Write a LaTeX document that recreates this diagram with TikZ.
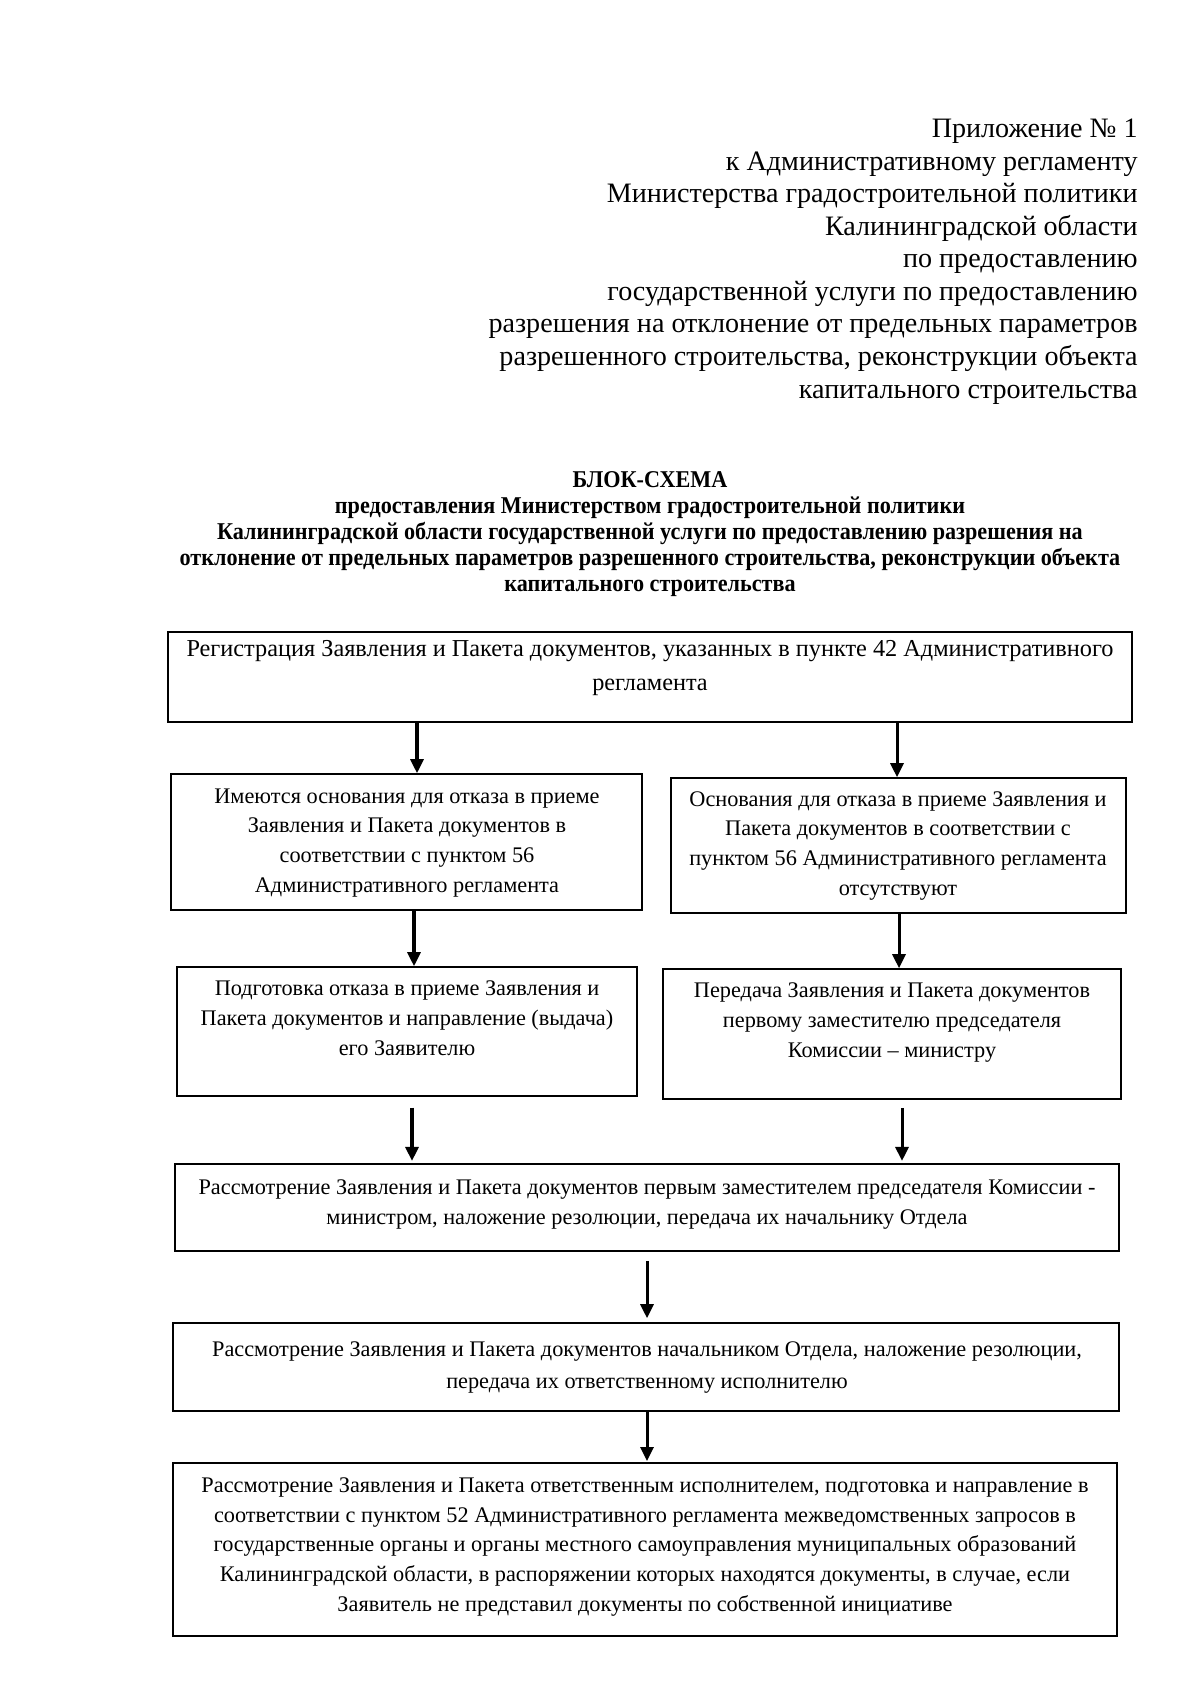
\documentclass[tikz,border=0pt]{standalone}
\usepackage{fontspec}
\setmainfont{Liberation Serif}
\newfontfamily\titlefont[FakeStretch=0.92]{Liberation Serif}
\usetikzlibrary{arrows.meta,fit}
\begin{document}
\begin{tikzpicture}[x=0.175mm,y=-0.175mm,
  box/.style={draw, line width=0.8pt, inner sep=0pt},
  txt/.style={anchor=base, align=center, inner sep=0pt, font=\fontsize{11.1}{14.7}\selectfont},
  hdr/.style={anchor=base east, align=right, inner sep=0pt, font=\fontsize{14}{16.2}\selectfont},
  ttl/.style={anchor=base, align=center, inner sep=0pt, font=\titlefont\bfseries\fontsize{12}{12.9}\selectfont},
  arr/.style={line width=1.5pt, -{Triangle[width=6.5pt,length=7pt]}}]
\fill[white] (0,0) rectangle (1200,1697);
\useasboundingbox (0,0) rectangle (1200,1697);

% header (anchored at the baseline of its last line)
\node[hdr] (hdr) at (1138,398) {Приложение № 1\\
к Административному регламенту\\
Министерства градостроительной политики\\
Калининградской области\\
по предоставлению\\
государственной услуги по предоставлению\\
разрешения на отклонение от предельных параметров\\
разрешенного строительства, реконструкции объекта\\
капитального строительства};

% title
\node[ttl] (ttl) at (650,591) {БЛОК-СХЕМА\\
предоставления Министерством градостроительной политики\\
Калининградской области государственной услуги по предоставлению разрешения на\\
отклонение от предельных параметров разрешенного строительства, реконструкции объекта\\
капитального строительства};

% boxes
\node[box, fit={(168,632) (1132,722)}] (top) {};
\node[box, fit={(171,774) (642,910)}] (L1) {};
\node[box, fit={(671,778) (1126,913)}] (R1) {};
\node[box, fit={(177,967) (637,1096)}] (L2) {};
\node[box, fit={(663,969) (1121,1099)}] (R2) {};
\node[box, fit={(175,1164) (1119,1251)}] (M1) {};
\node[box, fit={(173,1323) (1119,1411)}] (M2) {};
\node[box, fit={(173,1463) (1117,1636)}] (M3) {};

% texts (anchored at the baseline of their last line)
\node[txt, font=\fontsize{12.1}{14.7}\selectfont] (ttop) at (650,690) {Регистрация Заявления и Пакета документов, указанных в пункте 42 Административного\\[2.2pt] регламента};
\node[txt] (tL1) at (407,892) {Имеются основания для отказа в приеме\\
Заявления и Пакета документов в\\
соответствии с пунктом 56\\
Административного регламента};
\node[txt] (tR1) at (898,895) {Основания для отказа в приеме Заявления и\\
Пакета документов в соответствии с\\
пунктом 56 Административного регламента\\
отсутствуют};
\node[txt] (tL2) at (407,1055) {Подготовка отказа в приеме Заявления и\\
Пакета документов и направление (выдача)\\
его Заявителю};
\node[txt] (tR2) at (892,1057) {Передача Заявления и Пакета документов\\
первому заместителю председателя\\
Комиссии – министру};
\node[txt] (tM1) at (647,1224) {Рассмотрение Заявления и Пакета документов первым заместителем председателя Комиссии -\\
министром, наложение резолюции, передача их начальнику Отдела};
\node[txt] (tM2) at (647,1388) {Рассмотрение Заявления и Пакета документов начальником Отдела, наложение резолюции,\\[1pt]
передача их ответственному исполнителю};
\node[txt] (tM3) at (645,1611) {Рассмотрение Заявления и Пакета ответственным исполнителем, подготовка и направление в\\
соответствии с пунктом 52 Административного регламента межведомственных запросов в\\
государственные органы и органы местного самоуправления муниципальных образований\\
Калининградской области, в распоряжении которых находятся документы, в случае, если\\
Заявитель не представил документы по собственной инициативе};

% arrow columns
\coordinate (c1) at (417,0);
\coordinate (c2) at (897,0);
\coordinate (c3) at (414,0);
\coordinate (c4) at (899,0);
\coordinate (c5) at (412,0);
\coordinate (c6) at (902,0);
\coordinate (c7) at (647,0);

\draw[arr] (top.south -| c1) -- (L1.north -| c1);
\draw[arr] (top.south -| c2) -- (R1.north -| c2);
\draw[arr] (L1.south -| c3) -- (L2.north -| c3);
\draw[arr] (R1.south -| c4) -- (R2.north -| c4);
\draw[arr, shorten <=1.9mm, shorten >=0.4mm] (L2.south -| c5) -- (M1.north -| c5);
\draw[arr, shorten <=1.4mm, shorten >=0.4mm] (R2.south -| c6) -- (M1.north -| c6);
\draw[arr, shorten <=1.6mm, shorten >=0.7mm] (M1.south -| c7) -- (M2.north -| c7);
\draw[arr, shorten >=0.2mm] (M2.south -| c7) -- (M3.north -| c7);
\end{tikzpicture}
\end{document}
